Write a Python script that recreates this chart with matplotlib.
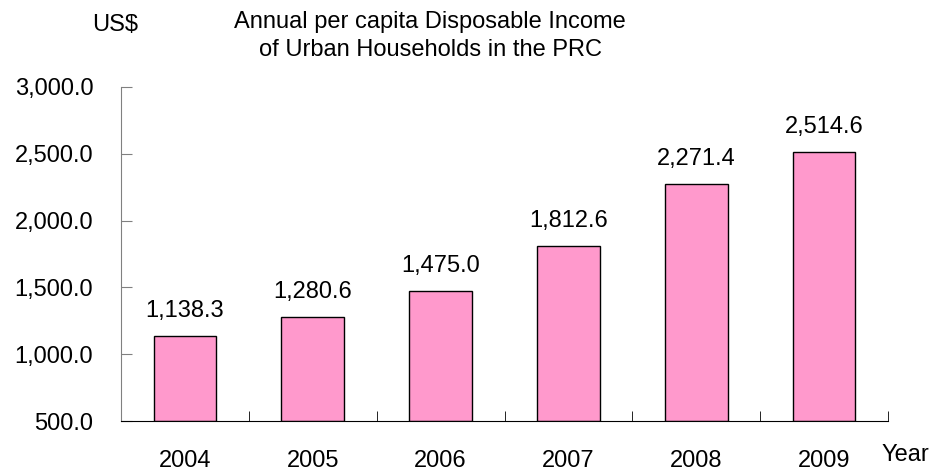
import matplotlib.pyplot as plt
import numpy as np

years = ['2004', '2005', '2006', '2007', '2008', '2009']
income = [1138.3, 1280.6, 1475.0, 1812.6, 2271.4, 2514.6]
yticks = [500, 1000, 1500, 2000, 2500, 3000]

plt.rcParams['font.family'] = ['Liberation Sans', 'DejaVu Sans']
fs = 17

fig = plt.figure(figsize=(9.3, 4.73), dpi=100)
ax = fig.add_axes([121/930, 1-421/473, (888-121)/930, (421-87)/473])

x = np.arange(len(years))
ax.bar(x, np.array(income) - 500, bottom=500, width=0.49,
       color='#FF99CC', edgecolor='black', linewidth=1)

for xi, v in zip(x, income):
    ax.annotate(f'{v:,.1f}', (xi, v), xytext=(0, 10), textcoords='offset points',
                ha='center', va='bottom', fontsize=fs)

ax.set_xlim(-0.5, len(years) - 0.5)
ax.set_ylim(500, 3000)
ax.set_yticks(yticks)
ax.set_yticklabels([f'{t:,.1f}' for t in yticks], fontsize=fs)
ax.tick_params(axis='y', direction='in', length=8, color='#808080', pad=20)

ax.set_xticks(x)
ax.set_xticklabels(years, fontsize=fs)
ax.tick_params(axis='x', length=0, pad=21)
ax.set_xticks(np.arange(len(years) + 1) - 0.5, minor=True)
ax.tick_params(axis='x', which='minor', direction='in', length=7, color='black')

for s in ['top', 'right']:
    ax.spines[s].set_visible(False)
ax.spines['left'].set_color('#808080')
ax.spines['bottom'].set_color('black')

fig.text(430/930, 1-36/473, 'Annual per capita Disposable Income\nof Urban Households in the PRC',
         ha='center', va='center', fontsize=fs, linespacing=1.3)
fig.text(115/930, 1-25/473, 'US$', ha='center', va='center', fontsize=fs)
fig.text(905/930, 1-455/473, 'Year', ha='center', va='center', fontsize=fs)

fig.savefig('out.png', dpi=100)
